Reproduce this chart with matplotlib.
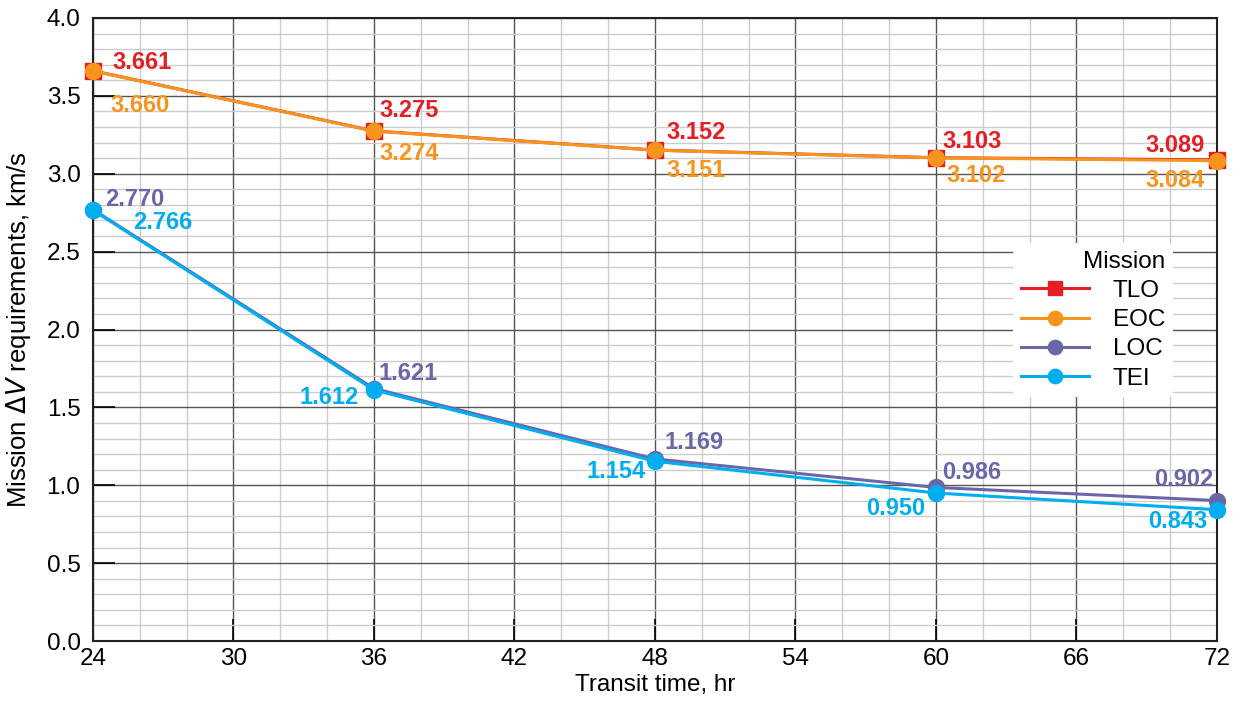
import matplotlib
matplotlib.use("Agg")
import matplotlib.pyplot as plt
from matplotlib.ticker import MultipleLocator, FormatStrFormatter

plt.rcParams['font.family'] = ['Liberation Sans', 'DejaVu Sans']

transit_hr = [24, 36, 48, 60, 72]
tlo = [3.661, 3.275, 3.152, 3.103, 3.089]
eoc = [3.660, 3.274, 3.151, 3.102, 3.084]
loc = [2.770, 1.621, 1.169, 0.986, 0.902]
tei = [2.766, 1.612, 1.154, 0.950, 0.843]

series = [
    ("TLO", tlo, "#e31e24", "s"),
    ("EOC", eoc, "#f7941d", "o"),
    ("LOC", loc, "#6967a8", "o"),
    ("TEI", tei, "#00aeef", "o"),
]

# label offsets in pixels (dx, dy, horizontal alignment) for each point
label_offsets = {
    "TLO": [(19, 8, "left"), (5, 20, "left"), (11, 18, "left"), (6, 16, "left"), (-12, 14, "right")],
    "EOC": [(17, -35, "left"), (5, -22, "left"), (11, -20, "left"), (10, -18, "left"), (-12, -20, "right")],
    "LOC": [(12, 10, "left"), (5, 15, "left"), (9, 16, "left"), (6, 15, "left"), (-4, 21, "right")],
    "TEI": [(40, -12, "left"), (-15, -8, "right"), (-9, -10, "right"), (-11, -15, "right"), (-10, -12, "right")],
}

FS = 17.5

fig = plt.figure(figsize=(12.45, 7.02), dpi=100)
ax = fig.add_axes([93 / 1245, 1 - 641 / 702, (1217 - 93) / 1245, (641 - 18) / 702])

for name, vals, color, marker in series:
    ax.plot(transit_hr, vals, color=color, marker=marker, markersize=11.5,
            linewidth=2.2, label=name, clip_on=False, zorder=4)
    for x, v, (dx, dy, ha) in zip(transit_hr, vals, label_offsets[name]):
        ax.annotate(f"{v:.3f}", (x, v), xytext=(dx, dy), textcoords="offset pixels",
                    ha=ha, va="center", color=color, fontsize=17, fontweight="bold",
                    zorder=5)

ax.set_xlim(24, 72)
ax.set_ylim(0, 4.0)
ax.xaxis.set_major_locator(MultipleLocator(6))
ax.xaxis.set_minor_locator(MultipleLocator(2))
ax.yaxis.set_major_locator(MultipleLocator(0.5))
ax.yaxis.set_minor_locator(MultipleLocator(0.1))
ax.yaxis.set_major_formatter(FormatStrFormatter("%.1f"))

ax.grid(which="major", color="#555555", linewidth=1.0)
ax.grid(which="minor", color="#cccccc", linewidth=1.0)
ax.set_axisbelow(True)

ax.tick_params(which="major", direction="in", length=16, width=1.2, color="black",
               labelsize=FS)
ax.tick_params(axis="y", which="major", pad=9)
ax.tick_params(axis="x", which="major", pad=5)
ax.tick_params(which="minor", length=0)
for sp in ax.spines.values():
    sp.set_linewidth(1.5)
    sp.set_color("#222222")

ax.set_xlabel("Transit time, hr", fontsize=FS, labelpad=3)
ax.set_ylabel(r"Mission $\Delta V$ requirements, km/s", fontsize=18.5, labelpad=10)

leg = ax.legend(title="Mission", loc="upper left", bbox_to_anchor=(0.808, 0.658),
                frameon=True, fontsize=FS, title_fontsize=FS, handlelength=2.8,
                handletextpad=1.0, labelspacing=0.3, borderpad=0.3,
                markerscale=0.9)
leg.get_frame().set_edgecolor("none")
leg.get_frame().set_facecolor("white")
leg.get_frame().set_alpha(1.0)
leg._legend_box.align = "right"

fig.savefig("out.png", dpi=100)
